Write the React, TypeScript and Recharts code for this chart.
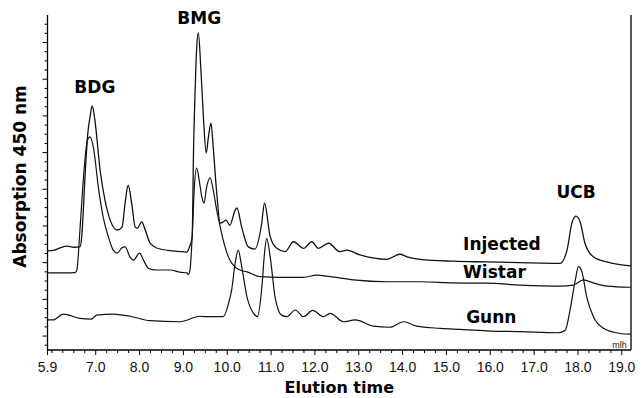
import { LineChart, Line, XAxis, YAxis, ReferenceLine, ReferenceDot } from 'recharts';

// elution time (min), absorption (arbitrary units)
const injected: [number, number][] = [
    [5.91, 23.2], [6.05, 23.4], [6.2, 24.1], [6.34, 24.5], [6.5, 24.2], [6.64, 24.3], [6.68, 27.0],
    [6.76, 44.4], [6.82, 55.3], [6.87, 59.7], [6.92, 62.7], [6.98, 58.9], [7.1, 45.2], [7.21, 37.1],
    [7.33, 31.6], [7.49, 28.9], [7.6, 29.7], [7.67, 36.2], [7.74, 41.1], [7.82, 36.2], [7.9, 29.7],
    [7.95, 29.4], [8.05, 31.1], [8.13, 28.9], [8.24, 25.3], [8.39, 24.0], [8.76, 23.2], [9.08, 22.9],
    [9.13, 24.0], [9.2, 27.0], [9.23, 49.9], [9.27, 67.8], [9.3, 77.9], [9.34, 82.6], [9.4, 72.5],
    [9.46, 58.9], [9.52, 49.9], [9.57, 54.2], [9.63, 58.0], [9.68, 51.5], [9.76, 39.0], [9.84, 30.8],
    [9.91, 31.1], [9.97, 31.6], [10.06, 30.2], [10.18, 34.3], [10.22, 34.9], [10.33, 29.7],
    [10.48, 24.3], [10.63, 23.7], [10.78, 30.2], [10.85, 36.2], [10.98, 27.1], [11.13, 23.9],
    [11.32, 23.0], [11.51, 25.7], [11.74, 23.9], [11.93, 25.7], [12.08, 23.9], [12.31, 25.3],
    [12.57, 23.0], [12.73, 23.4], [13.03, 22.1], [13.64, 20.9], [13.94, 22.3], [14.1, 21.6],
    [14.4, 20.9], [15.16, 20.4], [15.92, 20.2], [16.68, 20.0], [17.59, 19.8], [17.75, 23.4],
    [17.86, 30.7], [17.95, 32.7], [18.05, 31.1], [18.16, 25.3], [18.35, 21.6], [18.66, 20.2],
    [19.21, 19.1],
];

const wistar: [number, number][] = [
    [5.91, 17.2], [6.3, 17.2], [6.53, 17.3], [6.57, 18.0], [6.64, 28.9], [6.7, 39.8], [6.76, 48.8],
    [6.81, 53.4], [6.87, 54.3], [6.95, 51.2], [7.06, 40.6], [7.17, 32.4], [7.29, 27.0], [7.4, 23.4],
    [7.49, 22.6], [7.59, 24.0], [7.67, 24.3], [7.78, 21.6], [7.86, 20.7], [8.0, 22.6], [8.09, 20.7],
    [8.2, 18.5], [8.39, 18.0], [8.7, 18.0], [8.92, 17.4], [9.08, 17.2], [9.11, 16.8], [9.15, 18.0],
    [9.2, 27.0], [9.25, 40.6], [9.3, 45.8], [9.36, 42.5], [9.42, 37.9], [9.47, 36.2], [9.53, 40.6],
    [9.61, 43.1], [9.68, 39.8], [9.76, 34.3], [9.84, 29.7], [9.95, 24.3], [10.06, 20.7], [10.18, 18.8],
    [10.29, 18.0], [10.45, 17.5], [10.75, 16.2], [11.21, 16.0], [11.74, 16.0], [12.04, 16.6],
    [12.35, 16.2], [12.88, 15.3], [13.64, 14.8], [14.4, 14.8], [15.16, 14.5], [15.92, 14.4],
    [16.68, 13.9], [17.59, 13.6], [17.9, 13.9], [18.12, 15.3], [18.35, 14.5], [18.66, 13.6],
    [19.21, 13.3],
];

const gunn: [number, number][] = [
    [5.9, 4.4], [6.03, 4.4], [6.26, 6.0], [6.64, 4.8], [6.9, 4.6], [7.02, 5.7], [7.4, 6.0], [7.78, 5.4],
    [8.24, 4.2], [8.92, 3.9], [9.38, 5.4], [9.46, 5.3], [9.91, 5.3], [10.03, 8.9], [10.1, 12.5],
    [10.18, 19.8], [10.25, 23.4], [10.33, 18.9], [10.45, 10.7], [10.6, 6.2], [10.69, 5.3], [10.79, 13.4],
    [10.85, 22.5], [10.9, 26.6], [10.98, 21.6], [11.09, 10.7], [11.24, 5.7], [11.36, 5.3], [11.55, 7.1],
    [11.74, 5.3], [11.95, 7.0], [12.19, 5.3], [12.35, 6.2], [12.65, 3.9], [12.92, 4.4], [13.33, 2.7],
    [13.71, 2.4], [14.02, 3.9], [14.32, 2.7], [14.86, 2.1], [15.31, 1.8], [15.92, 1.4], [16.68, 1.2],
    [17.55, 0.9], [17.71, 1.6], [17.82, 7.1], [17.94, 15.3], [18.01, 18.9], [18.09, 17.5], [18.2, 10.7],
    [18.35, 5.3], [18.58, 2.1], [18.96, 0.7], [19.21, 0.5],
];

// peak names and trace names: [text, time, absorption, anchor]
const peakLabels: [string, number, number, string][] = [
    ['BDG', 6.98, 67.8, 'middle'],
    ['BMG', 9.36, 86.6, 'middle'],
    ['UCB', 17.96, 39.2, 'middle'],
    ['Injected', 15.38, 25.2, 'start'],
    ['Wistar', 15.38, 17.4, 'start'],
    ['Gunn', 15.45, 5.3, 'start'],
];

const xMajor = [5.9, 7, 8, 9, 10, 11, 12, 13, 14, 15, 16, 17, 18, 19];
const xTicks = [5.9, ...Array.from({ length: 53 }, (_, i) => 6 + i * 0.25)];
const yTicks = Array.from({ length: 36 }, (_, i) => -2.5 + i * 2.5);

const rows = (pts: [number, number][]) => pts.map(([t, a]) => ({ t, a }));

const BOLD = '"DejaVu Sans", sans-serif';

function XTick({ x, y, payload }: any) {
    const v = payload.value;
    const major = xMajor.includes(v);
    return (
        <g>
            <line x1={x} x2={x} y1={y} y2={y + (major ? 5 : 3)} stroke="#000" strokeWidth={1} />
            {major && (
                <text x={x} y={y + 22} textAnchor="middle" fontSize={14} fontFamily='"Liberation Sans", Arial, sans-serif' fill="#111">
                    {v.toFixed(1)}
                </text>
            )}
        </g>
    );
}

function YTick({ x, y, payload }: any) {
    const major = payload.value % 10 === 0;
    return <line x1={x - (major ? 5 : 3)} x2={x} y1={y} y2={y} stroke="#000" strokeWidth={1} />;
}

export default function App() {
    return (
        <div style={{ position: 'absolute', left: 0, top: 0, background: '#fff' }}>
            <LineChart width={642} height={398} margin={{ top: 15, right: 11, bottom: 0, left: 0 }}>
                <XAxis
                    type="number"
                    dataKey="t"
                    domain={[5.9, 19.21]}
                    allowDataOverflow
                    ticks={xTicks}
                    interval={0}
                    height={48}
                    tickSize={0}
                    tickMargin={0}
                    tick={<XTick />}
                    axisLine={{ stroke: '#000', strokeWidth: 1.3 }}
                    label={{
                        value: 'Elution time',
                        position: 'insideBottom',
                        offset: 5,
                        fontSize: 16,
                        fontWeight: 'bold',
                        fontFamily: BOLD,
                        fill: '#000',
                    }}
                />
                <YAxis
                    type="number"
                    dataKey="a"
                    domain={[-3.8, 87.5]}
                    allowDataOverflow
                    ticks={yTicks}
                    interval={0}
                    width={47.5}
                    tickSize={0}
                    tickMargin={0}
                    tick={<YTick />}
                    axisLine={{ stroke: '#000', strokeWidth: 1.3 }}
                    label={{
                        content: ({ viewBox }: any) => {
                            const cx = viewBox.x + 20;
                            const cy = viewBox.y + viewBox.height / 2 - 6;
                            return (
                                <text
                                    x={cx}
                                    y={cy}
                                    transform={`rotate(-90 ${cx} ${cy})`}
                                    textAnchor="middle"
                                    dominantBaseline="central"
                                    fontSize={17}
                                    fontWeight="bold"
                                    fontFamily={BOLD}
                                    fill="#000"
                                >
                                    Absorption 450 nm
                                </text>
                            );
                        },
                    }}
                />
                <ReferenceLine x={19.21} stroke="#000" strokeWidth={1.3} />
                <Line data={rows(wistar)} dataKey="a" type="monotone" stroke="#111" strokeWidth={1.2} dot={false} isAnimationActive={false} />
                <Line data={rows(gunn)} dataKey="a" type="monotone" stroke="#111" strokeWidth={1.2} dot={false} isAnimationActive={false} />
                <Line data={rows(injected)} dataKey="a" type="monotone" stroke="#111" strokeWidth={1.3} dot={false} isAnimationActive={false} />
                {peakLabels.map(([text, t, a, anchor]) => (
                    <ReferenceDot
                        key={text}
                        x={t}
                        y={a}
                        r={0}
                        fill="none"
                        stroke="none"
                        label={{
                            content: ({ viewBox }: any) => (
                                <text
                                    x={viewBox.x + viewBox.width / 2}
                                    y={viewBox.y + viewBox.height / 2}
                                    textAnchor={anchor}
                                    dominantBaseline="central"
                                    fontSize={17}
                                    fontWeight="bold"
                                    fontFamily={BOLD}
                                    fill="#000"
                                >
                                    {text}
                                </text>
                            ),
                        }}
                    />
                ))}
                <ReferenceDot
                    x={18.95}
                    y={-2.5}
                    r={0}
                    fill="none"
                    stroke="none"
                    label={{ value: 'mlh', position: 'center', fontSize: 9, fontFamily: '"Liberation Sans", Arial, sans-serif', fill: '#222' }}
                />
            </LineChart>
        </div>
    );
}
